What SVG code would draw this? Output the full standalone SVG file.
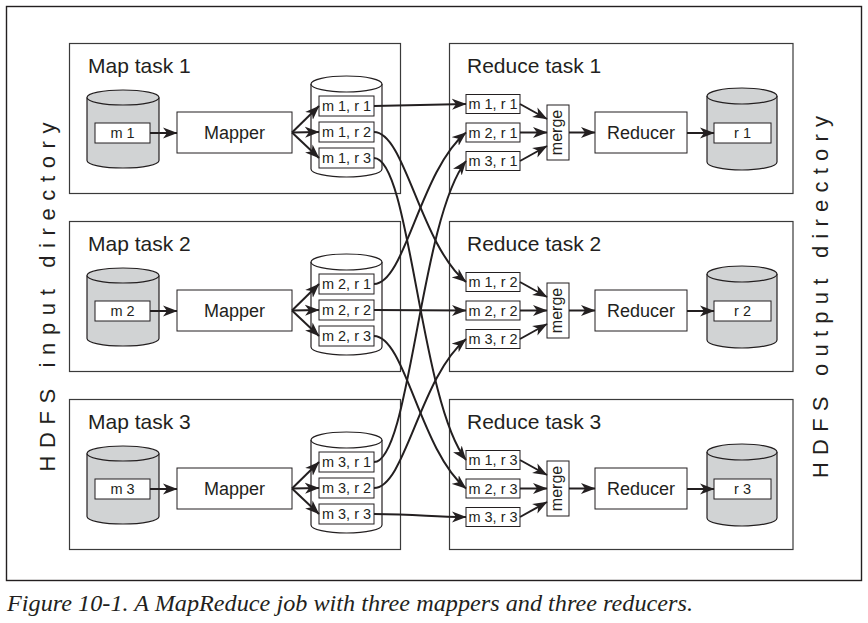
<svg xmlns="http://www.w3.org/2000/svg" width="868" height="623" viewBox="0 0 868 623">
<style>
.t{font-family:"Liberation Sans",Arial,sans-serif;fill:#231f20}
.title{font-size:21px}
.lbl{font-size:14.5px;text-anchor:middle}
.big{font-size:18px;text-anchor:middle}
.mg{font-size:16px;text-anchor:middle}
.side{font-size:22px;text-anchor:middle}
.box{fill:#fff;stroke:#231f20;stroke-width:1}
.task{fill:#fff;stroke:#3a3a3a;stroke-width:1.2}
.cg{fill:#d1d3d4;stroke:#231f20;stroke-width:1.2}
.cw{fill:#fff;stroke:#231f20;stroke-width:1.2}
.c{fill:none;stroke:#231f20;stroke-width:2;marker-end:url(#ah)}
.cap{font-family:"Liberation Serif","Times New Roman",serif;font-style:italic;font-size:23px;fill:#231f20}
</style>
<defs>
<marker id="ah" markerUnits="userSpaceOnUse" markerWidth="15" markerHeight="12" refX="14" refY="6" orient="auto">
<path d="M0,0.5 L14.5,6 L0,11.5 L4,6 z" fill="#231f20"/>
</marker>
</defs>
<rect x="6.5" y="6.5" width="855" height="574" fill="#fff" stroke="#231f20" stroke-width="1.4"/>
<g id="hdfs-input"><text class="t side" transform="translate(55,297) rotate(-90)" textLength="349" lengthAdjust="spacing">HDFS input directory</text></g>
<g id="hdfs-output"><text class="t side" transform="translate(828,297) rotate(-90)" textLength="362" lengthAdjust="spacing">HDFS output directory</text></g>

<g id="map-task-1">
<rect class="task" x="69.5" y="43.5" width="331" height="150"/>
<text class="t title" x="88" y="73">Map task 1</text>
<g id="input-m1"><path class="cg" d="M87,97.5 v63 a36,7.5 0 0 0 72,0 v-63"/><ellipse class="cg" cx="123" cy="97.5" rx="36" ry="7.5"/>
<rect class="box" x="95" y="123" width="55" height="20"/><text class="t lbl" x="122.5" y="138">m 1</text></g>
<g id="mapper-1"><rect class="box" x="177" y="112" width="115" height="41"/><text class="t big" x="234.5" y="139">Mapper</text></g>
<g id="out-m1"><path class="cw" d="M311,84 v85 a35.5,8 0 0 0 71,0 v-85"/><ellipse class="cw" cx="346.5" cy="84" rx="35.5" ry="8"/>
<rect class="box" x="319" y="96" width="55" height="20"/><text class="t lbl" x="346.5" y="111">m 1, r 1</text>
<rect class="box" x="319" y="122" width="55" height="20"/><text class="t lbl" x="346.5" y="137">m 1, r 2</text>
<rect class="box" x="319" y="148" width="55" height="20"/><text class="t lbl" x="346.5" y="163">m 1, r 3</text></g>
</g>

<g id="map-task-2" transform="translate(0,178)">
<rect class="task" x="69.5" y="43.5" width="331" height="150"/>
<text class="t title" x="88" y="73">Map task 2</text>
<g id="input-m2"><path class="cg" d="M87,97.5 v63 a36,7.5 0 0 0 72,0 v-63"/><ellipse class="cg" cx="123" cy="97.5" rx="36" ry="7.5"/>
<rect class="box" x="95" y="123" width="55" height="20"/><text class="t lbl" x="122.5" y="138">m 2</text></g>
<g id="mapper-2"><rect class="box" x="177" y="112" width="115" height="41"/><text class="t big" x="234.5" y="139">Mapper</text></g>
<g id="out-m2"><path class="cw" d="M311,84 v85 a35.5,8 0 0 0 71,0 v-85"/><ellipse class="cw" cx="346.5" cy="84" rx="35.5" ry="8"/>
<rect class="box" x="319" y="96" width="55" height="20"/><text class="t lbl" x="346.5" y="111">m 2, r 1</text>
<rect class="box" x="319" y="122" width="55" height="20"/><text class="t lbl" x="346.5" y="137">m 2, r 2</text>
<rect class="box" x="319" y="148" width="55" height="20"/><text class="t lbl" x="346.5" y="163">m 2, r 3</text></g>
</g>

<g id="map-task-3" transform="translate(0,356)">
<rect class="task" x="69.5" y="43.5" width="331" height="150"/>
<text class="t title" x="88" y="73">Map task 3</text>
<g id="input-m3"><path class="cg" d="M87,97.5 v63 a36,7.5 0 0 0 72,0 v-63"/><ellipse class="cg" cx="123" cy="97.5" rx="36" ry="7.5"/>
<rect class="box" x="95" y="123" width="55" height="20"/><text class="t lbl" x="122.5" y="138">m 3</text></g>
<g id="mapper-3"><rect class="box" x="177" y="112" width="115" height="41"/><text class="t big" x="234.5" y="139">Mapper</text></g>
<g id="out-m3"><path class="cw" d="M311,84 v85 a35.5,8 0 0 0 71,0 v-85"/><ellipse class="cw" cx="346.5" cy="84" rx="35.5" ry="8"/>
<rect class="box" x="319" y="96" width="55" height="20"/><text class="t lbl" x="346.5" y="111">m 3, r 1</text>
<rect class="box" x="319" y="122" width="55" height="20"/><text class="t lbl" x="346.5" y="137">m 3, r 2</text>
<rect class="box" x="319" y="148" width="55" height="20"/><text class="t lbl" x="346.5" y="163">m 3, r 3</text></g>
</g>

<g id="reduce-task-1">
<rect class="task" x="449.5" y="43.5" width="343.5" height="150"/>
<text class="t title" x="467" y="73">Reduce task 1</text>
<g id="in-r1">
<rect class="box" x="466" y="94.5" width="54" height="19"/><text class="t lbl" x="493" y="109">m 1, r 1</text>
<rect class="box" x="466" y="123" width="54" height="19"/><text class="t lbl" x="493" y="137.5">m 2, r 1</text>
<rect class="box" x="466" y="151.5" width="54" height="19"/><text class="t lbl" x="493" y="166">m 3, r 1</text></g>
<g id="merge-1"><rect class="box" x="547" y="105" width="22" height="55"/><text class="t mg" transform="translate(562,132.5) rotate(-90)">merge</text></g>
<g id="reducer-1"><rect class="box" x="595" y="112" width="92" height="41"/><text class="t big" x="641" y="139">Reducer</text></g>
<g id="output-r1"><path class="cg" d="M707,96 v66 a35,8 0 0 0 70,0 v-66"/><ellipse class="cg" cx="742" cy="96" rx="35" ry="8"/>
<rect class="box" x="714" y="123" width="57" height="20"/><text class="t lbl" x="742.5" y="138">r 1</text></g>
</g>

<g id="reduce-task-2" transform="translate(0,178)">
<rect class="task" x="449.5" y="43.5" width="343.5" height="150"/>
<text class="t title" x="467" y="73">Reduce task 2</text>
<g id="in-r2">
<rect class="box" x="466" y="94.5" width="54" height="19"/><text class="t lbl" x="493" y="109">m 1, r 2</text>
<rect class="box" x="466" y="123" width="54" height="19"/><text class="t lbl" x="493" y="137.5">m 2, r 2</text>
<rect class="box" x="466" y="151.5" width="54" height="19"/><text class="t lbl" x="493" y="166">m 3, r 2</text></g>
<g id="merge-2"><rect class="box" x="547" y="105" width="22" height="55"/><text class="t mg" transform="translate(562,132.5) rotate(-90)">merge</text></g>
<g id="reducer-2"><rect class="box" x="595" y="112" width="92" height="41"/><text class="t big" x="641" y="139">Reducer</text></g>
<g id="output-r2"><path class="cg" d="M707,96 v66 a35,8 0 0 0 70,0 v-66"/><ellipse class="cg" cx="742" cy="96" rx="35" ry="8"/>
<rect class="box" x="714" y="123" width="57" height="20"/><text class="t lbl" x="742.5" y="138">r 2</text></g>
</g>

<g id="reduce-task-3" transform="translate(0,356)">
<rect class="task" x="449.5" y="43.5" width="343.5" height="150"/>
<text class="t title" x="467" y="73">Reduce task 3</text>
<g id="in-r3">
<rect class="box" x="466" y="94.5" width="54" height="19"/><text class="t lbl" x="493" y="109">m 1, r 3</text>
<rect class="box" x="466" y="123" width="54" height="19"/><text class="t lbl" x="493" y="137.5">m 2, r 3</text>
<rect class="box" x="466" y="151.5" width="54" height="19"/><text class="t lbl" x="493" y="166">m 3, r 3</text></g>
<g id="merge-3"><rect class="box" x="547" y="105" width="22" height="55"/><text class="t mg" transform="translate(562,132.5) rotate(-90)">merge</text></g>
<g id="reducer-3"><rect class="box" x="595" y="112" width="92" height="41"/><text class="t big" x="641" y="139">Reducer</text></g>
<g id="output-r3"><path class="cg" d="M707,96 v66 a35,8 0 0 0 70,0 v-66"/><ellipse class="cg" cx="742" cy="96" rx="35" ry="8"/>
<rect class="box" x="714" y="123" width="57" height="20"/><text class="t lbl" x="742.5" y="138">r 3</text></g>
</g>

<g id="connectors">
<path class="c" d="M150,133 H177"/>
<path class="c" d="M292,132.5 L319,106"/>
<path class="c" d="M292,132.5 L319,132"/>
<path class="c" d="M292,132.5 L319,158"/>
<path class="c" d="M520,104 L547,119"/>
<path class="c" d="M520,132.5 L547,132.5"/>
<path class="c" d="M520,161 L547,146"/>
<path class="c" d="M569,132.5 H595"/>
<path class="c" d="M687,133 H714"/>

<path class="c" d="M150,311 H177"/>
<path class="c" d="M292,310.5 L319,284"/>
<path class="c" d="M292,310.5 L319,310"/>
<path class="c" d="M292,310.5 L319,336"/>
<path class="c" d="M520,282 L547,297"/>
<path class="c" d="M520,310.5 L547,310.5"/>
<path class="c" d="M520,339 L547,324"/>
<path class="c" d="M569,310.5 H595"/>
<path class="c" d="M687,311 H714"/>

<path class="c" d="M150,489 H177"/>
<path class="c" d="M292,488.5 L319,462"/>
<path class="c" d="M292,488.5 L319,488"/>
<path class="c" d="M292,488.5 L319,514"/>
<path class="c" d="M520,460 L547,475"/>
<path class="c" d="M520,488.5 L547,488.5"/>
<path class="c" d="M520,517 L547,502"/>
<path class="c" d="M569,488.5 H595"/>
<path class="c" d="M687,489 H714"/>

<path class="c" d="M374,106 L466,104"/>
<path class="c" d="M374,310 L466,310.5"/>
<path class="c" d="M374,514 C420,514 430,517 466,517"/>
<path class="c" d="M374,132 C405,132 420,244 466,282"/>
<path class="c" d="M374,284 C405,284 420,170.5 466,132.5"/>
<path class="c" d="M374,336 C405,336 420,450.5 466,488.5"/>
<path class="c" d="M374,488 C405,488 420,377 466,339"/>
<path class="c" d="M374,158 C410,158 420,401 466,460"/>
<path class="c" d="M374,462 C410,462 420,220 466,161"/>
</g>

<text class="cap" x="7" y="611" textLength="686" lengthAdjust="spacingAndGlyphs">Figure 10-1. A MapReduce job with three mappers and three reducers.</text>
</svg>
